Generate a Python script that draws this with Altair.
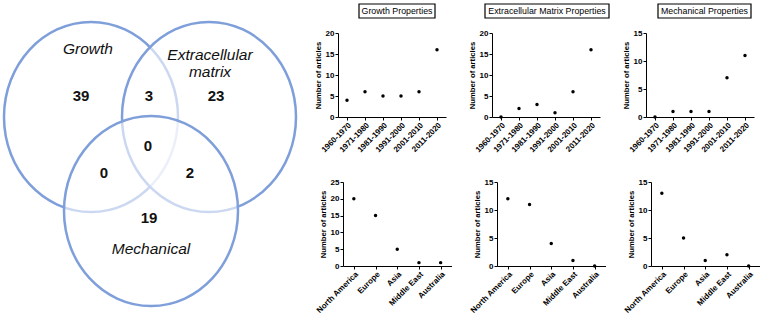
import altair as alt
import pandas as pd

# ---------------- data ----------------
set_names = ["Growth", "Extracellular matrix", "Mechanical"]
# Venn regions: G only, G∩E, E only, G∩E∩M, G∩M, E∩M, M only
region_counts = [39, 3, 23, 0, 0, 2, 19]

decades = ["1960-1970", "1971-1980", "1981-1990", "1991-2000", "2001-2010", "2011-2020"]
growth_by_decade = [4, 6, 5, 5, 6, 16]
ecm_by_decade = [0, 2, 3, 1, 6, 16]
mech_by_decade = [0, 1, 1, 1, 7, 11]

regions = ["North America", "Europe", "Asia", "Middle East", "Australia"]
growth_by_region = [20, 15, 5, 1, 1]
ecm_by_region = [12, 11, 4, 1, 0]
mech_by_region = [13, 5, 1, 2, 0]

panel_titles = ["Growth Properties", "Extracellular Matrix Properties", "Mechanical Properties"]

# ---------------- layout / style ----------------
FONT = "Liberation Sans"
BLUE = "#7F9FDB"
VW, VH, VTOP = 290, 276, 34
ell_cx = [90, 208, 150]
ell_cy = [118, 118, 212]
ell_a, ell_b = 87, 95
set_lab_x = [87, 209, 150]
set_lab_y = [50, 55.5, 250]
cnt_x = [80, 148, 215, 147, 103, 189, 148]
cnt_y = [97, 97, 97, 147, 174, 174, 219]

r = ell_a / ell_b
ELLIPSE = f"M {-r:.4f} 0 A {r:.4f} 1 0 1 0 {r:.4f} 0 A {r:.4f} 1 0 1 0 {-r:.4f} 0 Z"

xs = alt.Scale(domain=[0, VW], nice=False, zero=False)
ys = alt.Scale(domain=[VTOP, VTOP + VH], reverse=True, nice=False, zero=False)

ell_df = pd.DataFrame({"set": set_names, "cx": ell_cx, "cy": ell_cy, "k": [0, 1, 2]})
ellipses = alt.Chart(ell_df).mark_point(
    shape=ELLIPSE, size=(2 * ell_b) ** 2, filled=True, fill="white", fillOpacity=0.6,
    stroke=BLUE, strokeWidth=2.5, strokeOpacity=1, opacity=1,
).encode(
    x=alt.X("cx:Q", scale=xs, axis=None),
    y=alt.Y("cy:Q", scale=ys, axis=None),
    order=alt.Order("k:Q"),
)

lab_df = pd.DataFrame({
    "label": [n.replace("Extracellular ", "Extracellular\n") for n in set_names],
    "x": set_lab_x, "y": set_lab_y,
})
set_text = alt.Chart(lab_df).mark_text(
    font=FONT, fontStyle="italic", fontSize=15.5, lineBreak="\n", lineHeight=17,
    color="#111111", baseline="middle", align="center",
).encode(x=alt.X("x:Q", scale=xs, axis=None), y=alt.Y("y:Q", scale=ys, axis=None), text="label:N")

cnt_df = pd.DataFrame({"n": [str(v) for v in region_counts], "x": cnt_x, "y": cnt_y})
cnt_text = alt.Chart(cnt_df).mark_text(
    font=FONT, fontWeight="bold", fontSize=15, color="#111111", baseline="middle", align="center",
).encode(x=alt.X("x:Q", scale=xs, axis=None), y=alt.Y("y:Q", scale=ys, axis=None), text="n:N")

venn = alt.layer(ellipses, set_text, cnt_text).properties(width=VW, height=VH)

# title boxes, relative to plot-left (x1, x2) and plot-top (y1, y2)
title_boxes = [(21, 97), (-7, 117), (12, 105)]
BOX_Y = (-29, -15)


def panel(cats, vals, ymax, width, title=None, box=None):
    df = pd.DataFrame({"cat": cats, "n": vals})
    pts = alt.Chart(df).mark_circle(size=12, color="black", opacity=1).encode(
        x=alt.X("cat:N", sort=cats, title=None,
                scale=alt.Scale(type="point", padding=0.5),
                axis=alt.Axis(labelAngle=-45)),
        y=alt.Y("n:Q", scale=alt.Scale(domain=[0, ymax], nice=False),
                axis=alt.Axis(values=list(range(0, ymax + 1, 5)), title="Number of articles")),
    )
    layers = [pts]
    if title is not None:
        tdf = pd.DataFrame({"t": [title]})
        bx1, bx2 = box
        layers.append(alt.Chart(tdf).mark_rect(fill="white", stroke="black", strokeWidth=1.2).encode(
            x=alt.value(bx1), x2=alt.value(bx2), y=alt.value(BOX_Y[0]), y2=alt.value(BOX_Y[1])))
        layers.append(alt.Chart(tdf).mark_text(font=FONT, fontSize=8.8, color="black",
                                               align="center", baseline="middle").encode(
            x=alt.value((bx1 + bx2) / 2), y=alt.value((BOX_Y[0] + BOX_Y[1]) / 2 + 0.3), text="t:N"))
    return alt.layer(*layers).properties(width=width, height=84)


def spacer(w):
    return alt.Chart(pd.DataFrame({"e": []})).mark_point(opacity=0).encode(
        x=alt.value(0), y=alt.value(0)).properties(width=w, height=84)


p1 = panel(decades, growth_by_decade, 20, 108, panel_titles[0], title_boxes[0])
p2 = panel(decades, ecm_by_decade, 20, 108, panel_titles[1], title_boxes[1])
p3 = panel(decades, mech_by_decade, 15, 108, panel_titles[2], title_boxes[2])
q1 = panel(regions, growth_by_region, 25, 108.5)
q2 = panel(regions, ecm_by_region, 15, 108.5)
q3 = panel(regions, mech_by_region, 15, 108.5)

toprow = alt.hconcat(spacer(1), p1, p2, p3, spacing=46, bounds="flush")
bottomrow = alt.hconcat(spacer(7), q1, q2, q3, spacing=45, bounds="flush")
right = alt.vconcat(toprow, bottomrow, spacing=24)

chart = alt.hconcat(venn, right, spacing=0, bounds="flush").properties(
    padding={"left": -2, "top": 3, "right": 0, "bottom": 0}, background="white",
).configure_view(stroke=None).configure_axis(
    grid=False, domainColor="black", domainWidth=1, tickColor="black", tickWidth=1, tickSize=3,
    labelColor="black", labelFont=FONT, labelFontSize=8, labelFontWeight="bold", labelPadding=1,
    titleColor="black", titleFont=FONT, titleFontSize=7.7, titleFontWeight="bold", titlePadding=3,
)

chart.save("out.html", embed_options={"renderer": "svg", "actions": False})
